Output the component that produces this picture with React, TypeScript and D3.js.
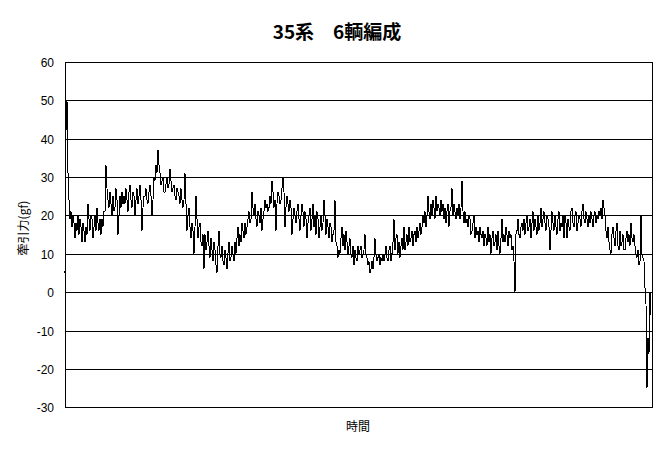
import React from "react";
import * as d3 from "d3";

const title = "35系　6輌編成";
const yLabel = "牽引力(gf)";
const xLabel = "時間";
const yTicks = [-30, -20, -10, 0, 10, 20, 30, 40, 50, 60];

const force: number[] = [
  5, 42, 50, 31, 24, 19, 21, 17, 20, 18, 14, 18, 16, 20, 15, 19, 17, 13, 18, 16,
  13, 17, 15, 23, 19, 16, 20, 19, 14, 17, 20, 16, 22, 18, 16, 19, 15, 19, 17, 21,
  21, 33, 27, 24, 22, 26, 23, 20, 25, 21, 22, 27, 24, 15, 20, 25, 22, 26, 23, 25,
  23, 27, 24, 21, 26, 28, 24, 22, 26, 25, 20, 24, 27, 23, 25, 28, 24, 16, 22, 25,
  25, 27, 24, 23, 26, 28, 25, 20, 24, 30, 29, 33, 31, 37, 33, 31, 28, 29, 30, 26,
  26, 28, 30, 27, 28, 32, 29, 26, 27, 28, 25, 24, 27, 26, 25, 23, 27, 24, 22, 24,
  31, 23, 16, 20, 22, 17, 14, 18, 16, 10, 17, 25, 19, 14, 17, 18, 13, 12, 15, 6,
  15, 11, 13, 16, 12, 9, 14, 11, 8, 13, 11, 7, 5, 12, 16, 10, 9, 12, 8, 7,
  11, 9, 6, 10, 13, 8, 9, 12, 10, 8, 13, 10, 14, 17, 12, 15, 13, 18, 16, 14,
  18, 15, 17, 19, 21, 18, 19, 26, 22, 20, 23, 19, 17, 21, 20, 18, 22, 16, 19, 21,
  24, 22, 23, 21, 22, 25, 23, 29, 26, 22, 24, 16, 23, 26, 25, 23, 24, 27, 30, 26,
  17, 22, 25, 23, 21, 24, 22, 15, 19, 22, 20, 18, 21, 23, 19, 16, 20, 23, 21, 17,
  21, 19, 14, 18, 20, 22, 16, 19, 23, 17, 20, 15, 21, 19, 14, 17, 20, 16, 18, 24,
  20, 15, 19, 17, 14, 18, 17, 13, 15, 16, 24, 13, 12, 9, 11, 10, 14, 17, 12, 15,
  11, 16, 13, 10, 12, 14, 10, 9, 12, 7, 11, 9, 8, 12, 10, 11, 12, 9, 10, 11,
  15, 10, 9, 7, 8, 5, 6, 8, 6, 9, 14, 10, 8, 9, 10, 7, 9, 8, 10, 8,
  10, 12, 9, 8, 11, 12, 8, 10, 13, 19, 11, 14, 15, 10, 13, 9, 12, 14, 11, 17,
  11, 13, 15, 12, 17, 13, 14, 16, 12, 15, 16, 13, 17, 14, 16, 18, 15, 17, 20, 18,
  21, 17, 20, 25, 21, 19, 23, 20, 24, 22, 19, 25, 21, 23, 22, 20, 24, 21, 23, 19,
  22, 18, 21, 23, 17, 21, 22, 27, 20, 23, 21, 19, 22, 20, 23, 19, 22, 29, 21, 18,
  21, 18, 19, 17, 20, 19, 15, 16, 18, 20, 14, 17, 15, 16, 13, 17, 15, 14, 16, 12,
  15, 14, 12, 17, 13, 15, 10, 14, 16, 12, 13, 15, 11, 16, 12, 10, 14, 19, 13, 15,
  13, 17, 15, 12, 16, 14, 15, 11, 12, 8, 0, 15, 16, 19, 15, 14, 17, 18, 16, 19,
  15, 18, 20, 16, 17, 19, 14, 18, 21, 16, 19, 17, 15, 20, 16, 18, 22, 17, 19, 21,
  18, 16, 20, 19, 17, 11, 16, 21, 18, 16, 20, 17, 15, 19, 21, 16, 18, 17, 20, 14,
  20, 18, 14, 19, 17, 16, 21, 22, 18, 17, 20, 21, 16, 18, 20, 19, 17, 21, 23, 19,
  18, 21, 19, 17, 20, 18, 21, 19, 17, 20, 21, 18, 20, 19, 21, 20, 22, 19, 24, 22,
  20, 16, 14, 17, 13, 11, 10, 15, 17, 14, 12, 16, 18, 12, 11, 16, 12, 13, 15, 11,
  11, 14, 16, 13, 15, 12, 18, 14, 13, 15, 12, 10, 9, 11, 7, 8, 20, 10, 9, 8,
  1, -3, -25, -12, -16, 0, -6,
];

const W = 667;
const H = 451;
const left = 65;
const right = 652;
const top = 61.7;
const bottom = 407.3;

export default function App() {
  const x = d3.scaleLinear().domain([0, force.length - 1]).range([left, right - 1]);
  const y = d3.scaleLinear().domain([-30, 60]).range([bottom, top]);
  const line = d3
    .line<number>()
    .x((_, i) => x(i))
    .y((d) => y(d));
  const font = "'Liberation Sans', Arial, sans-serif";
  const cjk = "'Noto Sans CJK JP', sans-serif";
  return (
    <svg
      width={W}
      height={H}
      style={{ position: "absolute", left: 0, top: 0, background: "#fff" }}
    >
      <rect x={0} y={0} width={W} height={H} fill="#fff" />
      {yTicks.map((t) => (
        <g key={t}>
          <line
            x1={left}
            x2={right}
            y1={Math.round(y(t)) + 0.5}
            y2={Math.round(y(t)) + 0.5}
            stroke="#000"
            strokeWidth={1}
            shapeRendering="crispEdges"
          />
          <text
            x={54}
            y={Math.round(y(t)) + 4.5}
            textAnchor="end"
            fontFamily={font}
            fontSize={12}
            fill="#000"
          >
            {t}
          </text>
        </g>
      ))}
      <line x1={left + 0.5} x2={left + 0.5} y1={Math.round(top)} y2={Math.round(bottom) + 1} stroke="#000" shapeRendering="crispEdges" />
      <line x1={right + 0.5} x2={right + 0.5} y1={Math.round(top)} y2={Math.round(bottom) + 1} stroke="#000" shapeRendering="crispEdges" />
      <path d={line(force) || ""} fill="none" stroke="#000" strokeWidth={1} shapeRendering="crispEdges" />
      <text
        x={337}
        y={39}
        textAnchor="middle"
        fontFamily={cjk}
        fontWeight="bold"
        fontSize={19}
        fill="#000"
      >
        {title}
      </text>
      <text
        x={358}
        y={431}
        textAnchor="middle"
        fontFamily={cjk}
        fontSize={12}
        fill="#000"
      >
        {xLabel}
      </text>
      <text
        transform={`translate(28,228) rotate(-90)`}
        textAnchor="middle"
        fontFamily={cjk}
        fontSize={12}
        fill="#000"
      >
        {yLabel}
      </text>
    </svg>
  );
}
